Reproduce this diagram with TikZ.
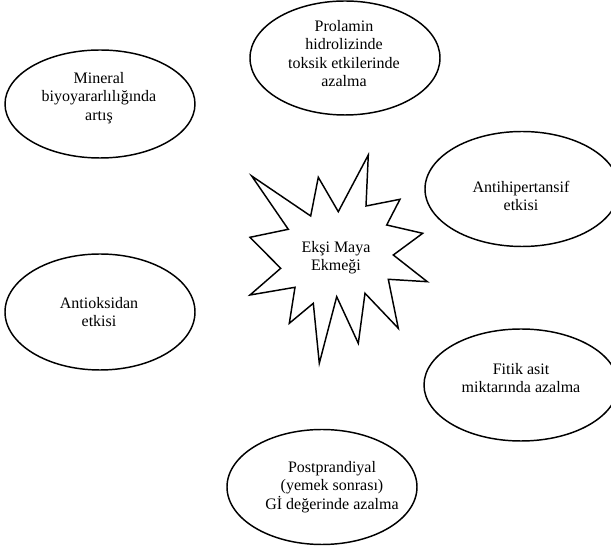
\documentclass[tikz,border=0pt]{standalone}
\usepackage{fontspec}
\setmainfont{Liberation Serif}
\usetikzlibrary{shapes.geometric}
\begin{document}
\begin{tikzpicture}[x=0.75pt,y=-0.75pt,
  bub/.style={draw, ellipse, line width=1.1pt, inner sep=0pt},
  burst/.style={draw, line width=1.1pt, line join=miter},
  txt/.style={align=center, inner sep=0pt, font=\fontsize{12pt}{13.8pt}\selectfont, text=black}]
\useasboundingbox (0,0) rectangle (611,548);
\clip (0,0) rectangle (611,548);
% ellipses
\node[bub, minimum width=142.5pt, minimum height=81pt]   (e1) at (100,104) {};
\node[bub, minimum width=142.5pt, minimum height=85.5pt] (e2) at (345,58)  {};
\node[bub, minimum width=145.5pt, minimum height=86.25pt] (e3) at (522,189) {};
\node[bub, minimum width=142.5pt, minimum height=87pt]   (e4) at (100,312) {};
\node[bub, minimum width=145.5pt, minimum height=84pt]   (e5) at (521,385) {};
\node[bub, minimum width=142.5pt, minimum height=86.25pt] (e6) at (322,487) {};
% texts
\node[txt] (t1) at (99,98)    {Mineral\\biyoyararlılığında\\artış};
\node[txt] (t2) at (344,53.5) {Prolamin\\hidrolizinde\\toksik etkilerinde\\azalma};
\node[txt] (t3) at (521,196)  {Antihipertansif\\etkisi};
\node[txt] (t4) at (99,312)   {Antioksidan\\etkisi};
\node[txt] (t5) at (521,378)  {Fitik asit\\miktarında azalma};
\node[txt] (t6) at (332,487)  {Postprandiyal\\(yemek sonrası)\\Gİ değerinde azalma};
% central burst
\draw[burst] (251.7,176) -- (310.7,216) -- (318.3,177.3) -- (338.3,211.7) -- (368.3,155)
  -- (366,206) -- (400,199.3) -- (386.7,225) -- (422.7,233.3) -- (393.3,255)
  -- (427.3,281.7) -- (388.3,279.3) -- (398.3,328.3) -- (365,293.3) -- (358.3,343.3)
  -- (336.7,296.7) -- (319.3,363.3) -- (313.3,303.3) -- (289.3,323.3) -- (295,287.3)
  -- (250,295) -- (280.7,268.3) -- (250,237.3) -- (288.3,229.3) -- cycle;
\node[txt] (star) at (336,257.5) {Ekşi Maya\\Ekmeği};
\end{tikzpicture}
\end{document}
